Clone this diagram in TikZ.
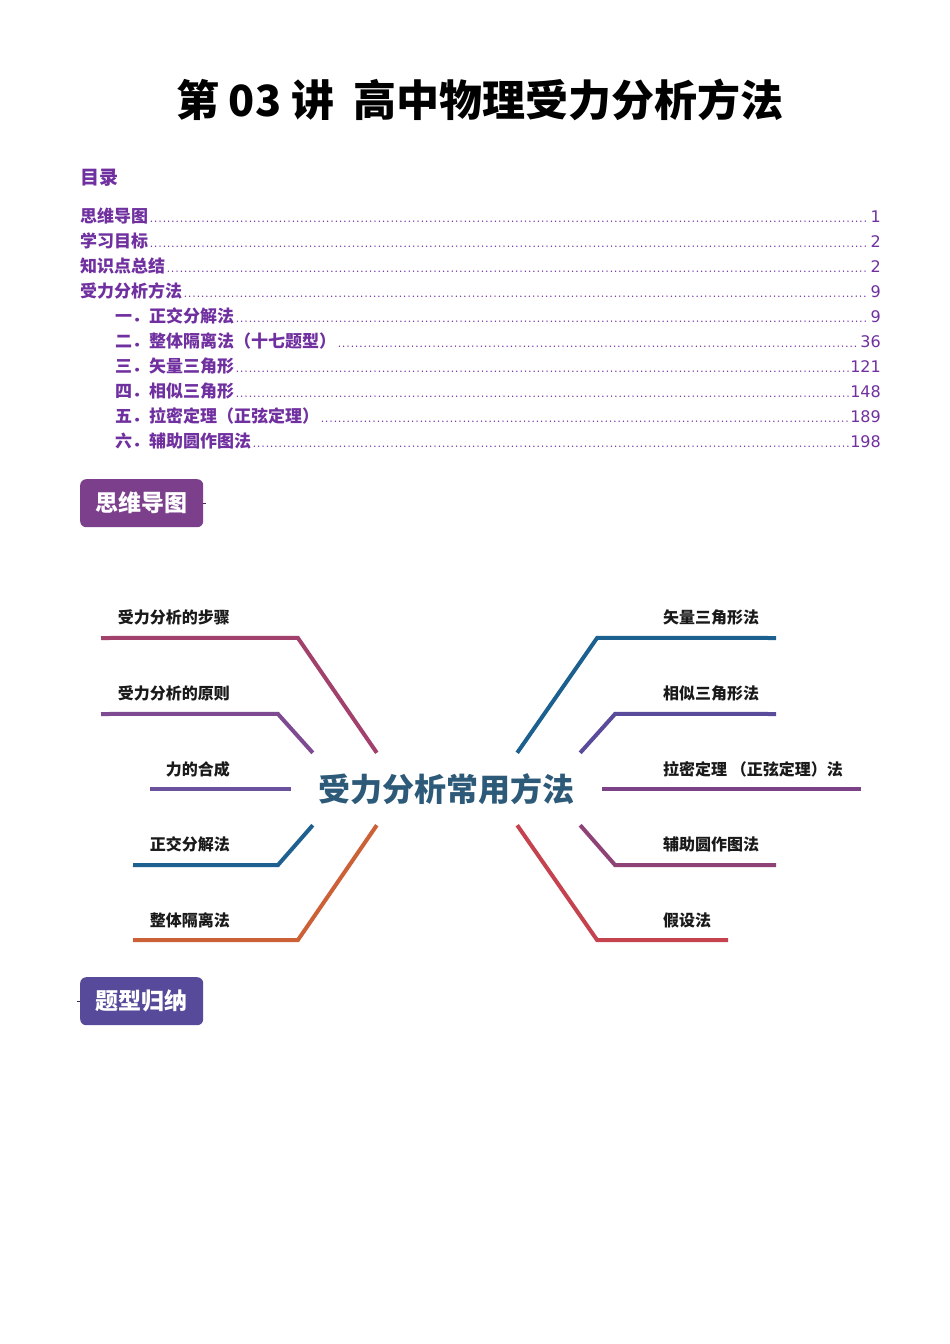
\documentclass[tikz,border=0pt]{standalone}
\usepackage{fontspec}
\usepackage{xcolor}
\setmainfont{DejaVu Sans}
\newfontfamily\cjk{Noto Sans CJK SC}
\usetikzlibrary{positioning}
\definecolor{tocpurple}{HTML}{7030A0}
\definecolor{badgeA}{HTML}{7B3F8C}
\definecolor{badgeB}{HTML}{574A9A}
\definecolor{hubblue}{HTML}{2C5A78}
\definecolor{leafblack}{HTML}{1A1A1A}
\definecolor{cSteps}{HTML}{A2426C}
\definecolor{cRules}{HTML}{7E4A92}
\definecolor{cCompose}{HTML}{6B529E}
\definecolor{cOrtho}{HTML}{1E6090}
\definecolor{cWhole}{HTML}{CC6036}
\definecolor{cVector}{HTML}{1B608F}
\definecolor{cSimilar}{HTML}{5A4C9B}
\definecolor{cLami}{HTML}{7C4288}
\definecolor{cAux}{HTML}{8F4276}
\definecolor{cAssume}{HTML}{C5434F}

\begin{document}
\begin{tikzpicture}[x=1pt,y=-1pt]
\tikzset{tocitem/.style={anchor=base west,inner sep=0pt,text=tocpurple,font=\cjk\bfseries\fontsize{17}{17}\selectfont}, tocpage/.style={anchor=base east,inner sep=0pt,text=tocpurple,font=\fontsize{16}{16}\selectfont}, leader/.style={draw=tocpurple,line width=1.5pt,line cap=round,dash pattern=on 0pt off 4.3pt}, badge/.style={rounded corners=6pt,minimum width=123pt,minimum height=48pt,inner sep=0pt,text=white,font=\cjk\bfseries\fontsize{23}{23}\selectfont}, leaf/.style={inner sep=0pt,text=leafblack,font=\cjk\bfseries\fontsize{16}{16}\selectfont}, branch/.style={line width=4pt}}
\useasboundingbox[fill=white] (0,0) rectangle (950,1344);
% title
\node[font=\cjk\bfseries\fontsize{43}{43}\selectfont] (title) at (480,100) {第 03 讲\ \ 高中物理受力分析方法};
% contents
\node[tocitem,font=\cjk\bfseries\fontsize{19}{19}\selectfont] (toc) at (80,184) {目录};
\foreach \txt/\pg/\xx [count=\i] in {思维导图/1/80, 学习目标/2/80, 知识点总结/2/80, 受力分析方法/9/80, 一．正交分解法/9/115, 二．整体隔离法（十七题型）/36/115, 三．矢量三角形/121/115, 四．相似三角形/148/115, 五．拉密定理（正弦定理）/189/115, 六．辅助圆作图法/198/115}{
  \node[tocitem] (t\i) at (\xx,{222+25*(\i-1)}) {\txt};
  \node[tocpage] (p\i) at (881,{222+25*(\i-1)}) {\pg};
  \draw[leader] ([xshift=3pt,yshift=0.8pt]t\i.base east) -- ([xshift=-2pt,yshift=0.8pt]p\i.base west);
}
% section badges
\node[badge,fill=badgeA,anchor=north west] (mindhdr) at (80,479) {思维导图};
\draw[line width=1.4pt,draw=badgeA!60!black] (mindhdr.east) -- ++(3,0);
\node[badge,fill=badgeB,anchor=north west] (typehdr) at (80,977) {题型归纳};
\draw[line width=1.4pt,draw=badgeB!60!black] (typehdr.west) -- ++(-3,0);
% mind map
\node[minimum width=267pt,minimum height=72pt,inner sep=0pt,text=hubblue,font=\cjk\bfseries\fontsize{32}{32}\selectfont] (hub) at (446.5,789) {受力分析常用方法};
\node[leaf,anchor=east] (steps) at (230,617) {受力分析的步骤};
\node[leaf,anchor=east] (rules) at (230,693) {受力分析的原则};
\node[leaf,anchor=east] (compose) at (230,769) {力的合成};
\node[leaf,anchor=east] (ortho) at (230,844) {正交分解法};
\node[leaf,anchor=east] (whole) at (230,920) {整体隔离法};
\node[leaf,anchor=west] (vector) at (663,617) {矢量三角形法};
\node[leaf,anchor=west] (similar) at (663,693) {相似三角形法};
\node[leaf,anchor=west] (lami) at (663,769) {拉密定理 （正弦定理）法};
\node[leaf,anchor=west] (aux) at (663,844) {辅助圆作图法};
\node[leaf,anchor=west] (assume) at (663,920) {假设法};
\coordinate (stepsEnd) at (101,638);
\coordinate (rulesEnd) at (101,714);
\coordinate (composeEnd) at (150,789);
\coordinate (orthoEnd) at (133,865);
\coordinate (wholeEnd) at (133,940);
\coordinate (vectorEnd) at (776,638);
\coordinate (similarEnd) at (776,714);
\coordinate (lamiEnd) at (861,789);
\coordinate (auxEnd) at (776,865);
\coordinate (assumeEnd) at (728,940);
\draw[branch,draw=cSteps] ([xshift=64pt]hub.north west) -- ++(-79,-115) -- (stepsEnd);
\draw[branch,draw=cRules] (hub.north west) -- ++(-35,-39) -- (rulesEnd);
\draw[branch,draw=cCompose] ([xshift=-22pt]hub.west) -- (composeEnd);
\draw[branch,draw=cOrtho] (hub.south west) -- ++(-35,40) -- (orthoEnd);
\draw[branch,draw=cWhole] ([xshift=64pt]hub.south west) -- ++(-79,115) -- (wholeEnd);
\draw[branch,draw=cVector] ([xshift=-63pt]hub.north east) -- ++(80,-115) -- (vectorEnd);
\draw[branch,draw=cSimilar] (hub.north east) -- ++(35,-39) -- (similarEnd);
\draw[branch,draw=cLami] ([xshift=22pt]hub.east) -- (lamiEnd);
\draw[branch,draw=cAux] (hub.south east) -- ++(35,40) -- (auxEnd);
\draw[branch,draw=cAssume] ([xshift=-63pt]hub.south east) -- ++(80,115) -- (assumeEnd);
\end{tikzpicture}
\end{document}
